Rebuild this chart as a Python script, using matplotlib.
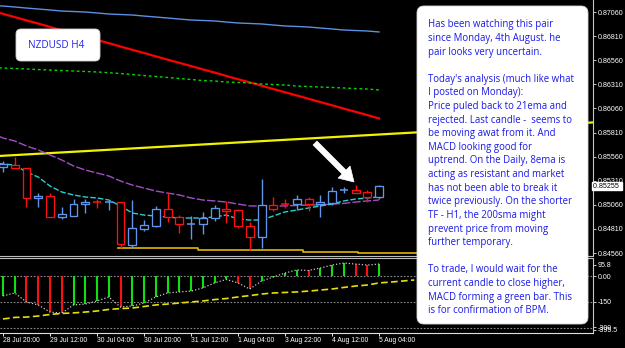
import matplotlib
matplotlib.use('Agg')
import matplotlib.pyplot as plt
from matplotlib.patches import Rectangle, FancyBboxPatch, FancyArrow
from matplotlib.transforms import IdentityTransform
from matplotlib import font_manager

# ---------------- data ----------------
bar_idx = list(range(33))
opens = [0.85452, 0.85473, 0.85442, 0.85131, 0.85151, 0.84934, 0.84944, 0.85068, 0.85089, 0.85079,
         0.85089, 0.84643, 0.84809, 0.84840, 0.85017, 0.84934, 0.84861, 0.84861, 0.84923, 0.85017,
         0.85006, 0.84840, 0.84726, 0.85058, 0.85079, 0.85068, 0.85120, 0.85068, 0.85079, 0.85208,
         0.85214, 0.85193, 0.85141]
highs = [0.85514, 0.85556, 0.85442, 0.85182, 0.85182, 0.85037, 0.85120, 0.85120, 0.85120, 0.85100,
         0.85089, 0.85110, 0.84902, 0.85048, 0.85182, 0.84954, 0.84944, 0.84985, 0.85058, 0.85100,
         0.85017, 0.84882, 0.85328, 0.85141, 0.85120, 0.85162, 0.85141, 0.85162, 0.85245, 0.85245,
         0.85266, 0.85214, 0.85266]
lows = [0.85400, 0.85442, 0.85037, 0.85037, 0.84934, 0.84913, 0.84944, 0.84975, 0.85027, 0.85006,
        0.84612, 0.84612, 0.84788, 0.84830, 0.84882, 0.84768, 0.84706, 0.84757, 0.84892, 0.84871,
        0.84819, 0.84591, 0.84612, 0.84996, 0.85027, 0.85006, 0.84996, 0.84934, 0.85058, 0.85182,
        0.85182, 0.85089, 0.85120]
closes = [0.85483, 0.85442, 0.85131, 0.85151, 0.84934, 0.84965, 0.85068, 0.85089, 0.85079, 0.85089,
          0.84654, 0.84819, 0.84851, 0.85017, 0.84934, 0.84861, 0.84871, 0.84923, 0.85027, 0.84996,
          0.84840, 0.84726, 0.85058, 0.85017, 0.85068, 0.85120, 0.85068, 0.85089, 0.85203, 0.85214,
          0.85182, 0.85141, 0.85255]

ma_idx = list(range(-1, 33))
sma_blue = [0.87127, 0.87122, 0.87112, 0.87101, 0.87091, 0.87081, 0.87070, 0.87065, 0.87060, 0.87050,
            0.87039, 0.87034, 0.87029, 0.87018, 0.87008, 0.86998, 0.86987, 0.86977, 0.86972, 0.86967,
            0.86956, 0.86946, 0.86941, 0.86936, 0.86925, 0.86915, 0.86910, 0.86904, 0.86894, 0.86884,
            0.86873, 0.86868, 0.86863, 0.86853]
ma_red = [0.87075, 0.87041, 0.87007, 0.86973, 0.86940, 0.86905, 0.86871, 0.86838, 0.86804, 0.86770,
          0.86737, 0.86702, 0.86668, 0.86635, 0.86600, 0.86566, 0.86533, 0.86499, 0.86465, 0.86432,
          0.86397, 0.86363, 0.86330, 0.86296, 0.86261, 0.86228, 0.86194, 0.86160, 0.86126, 0.86092,
          0.86058, 0.86025, 0.85991, 0.85956]
ma_green = [0.86484, 0.86479, 0.86474, 0.86469, 0.86463, 0.86458, 0.86453, 0.86448, 0.86443, 0.86438,
            0.86430, 0.86422, 0.86412, 0.86401, 0.86391, 0.86381, 0.86370, 0.86360, 0.86349, 0.86344,
            0.86334, 0.86329, 0.86324, 0.86313, 0.86308, 0.86303, 0.86292, 0.86287, 0.86282, 0.86277,
            0.86272, 0.86266, 0.86261, 0.86251]
ma_purple = [0.85805, 0.85753, 0.85722, 0.85670, 0.85629, 0.85577, 0.85525, 0.85463, 0.85421, 0.85390,
             0.85359, 0.85307, 0.85265, 0.85234, 0.85203, 0.85182, 0.85162, 0.85131, 0.85110, 0.85100,
             0.85089, 0.85068, 0.85048, 0.85048, 0.85048, 0.85048, 0.85053, 0.85058, 0.85058, 0.85068,
             0.85074, 0.85089, 0.85100, 0.85110]
ema_cyan = [0.85494, 0.85483, 0.85473, 0.85400, 0.85348, 0.85255, 0.85193, 0.85162, 0.85141, 0.85131,
            0.85110, 0.85048, 0.84975, 0.84954, 0.84944, 0.84934, 0.84923, 0.84923, 0.84923, 0.84934,
            0.84954, 0.84913, 0.84902, 0.84902, 0.84944, 0.84986, 0.85006, 0.85027, 0.85048, 0.85068,
            0.85100, 0.85120, 0.85131, 0.85141]

trend_idx = [-1, 52]
trend_price = [0.85562, 0.85927]

low_band_idx = [9.8, 16.6, 16.6, 25.5, 25.5, 30.2, 30.2, 35.5]
low_band_price = [0.84612, 0.84612, 0.84591, 0.84591, 0.84570, 0.84570, 0.84560, 0.84560]

macd_hist = [-115, -98, -150, -167, -208, -214, -167, -162, -144, -121, -179, -173, -156, -121, -98,
             -92, -87, -69, -40, -20, -40, -75, -29, -6, 17, 35, 32, 46, 63, 75, 69, 63, 69]
signal_idx = list(range(36))
macd_signal = [-248, -239, -237, -231, -222, -216, -213, -208, -202, -193, -188, -185, -176, -167,
               -162, -156, -150, -144, -136, -130, -121, -113, -104, -98, -95, -92, -87, -81, -75,
               -66, -58, -52, -40, -35, -29, -23]
macd_levels = [0, -150, -300]

time_tick_idx = [0, 4, 8, 12, 16, 20, 24, 28, 32]
time_labels = ['28 Jul 20:00', '29 Jul 12:00', '30 Jul 04:00', '30 Jul 20:00', '31 Jul 12:00',
               '1 Aug 04:00', '3 Aug 22:00', '4 Aug 12:00', '5 Aug 04:00']
price_ticks = [0.87060, 0.86810, 0.86560, 0.86310, 0.86060, 0.85810, 0.85560, 0.85310,
               0.85060, 0.84810, 0.84560]
current_price = 0.85255
macd_tick_pos = [66, 0, -150, -296, -310]
macd_tick_labels = ['95.8', '0.00', '-150', '-300', '-395.5']

title_text = 'NZDUSD H4'
note_lines = [
    "Has been watching this pair",
    "since Monday, 4th August. he",
    "pair looks very uncertain.",
    "",
    "Today's analysis (much like what",
    "I posted on Monday):",
    "Price puled back to 21ema and",
    "rejected. Last candle -  seems to",
    "be moving awat from it. And",
    "MACD looking good for",
    "uptrend. On the Daily, 8ema is",
    "acting as resistant and market",
    "has not been able to break it",
    "twice previously. On the shorter",
    "TF - H1, the 200sma might",
    "prevent price from moving",
    "further temporary.",
    "",
    "To trade, I would wait for the",
    "current candle to close higher,",
    "MACD forming a green bar. This",
    "is for confirmation of BPM.",
]

# ---------------- figure ----------------
W, H = 625, 348
fig = plt.figure(figsize=(W / 100, H / 100), dpi=100)
fig.patch.set_facecolor('black')
renderer = fig.canvas.get_renderer()

names = {f.name for f in font_manager.fontManager.ttflist}
NARROW = 'Liberation Sans Narrow' if 'Liberation Sans Narrow' in names else 'Liberation Sans'
AXFONT = 'Liberation Sans'
NOTEFONT = 'Open Sans' if 'Open Sans' in names else 'DejaVu Sans'


def fit_size(s, target_px, family, base=10.0):
    t = fig.text(0, 0, s, fontsize=base, family=family)
    w = t.get_window_extent(renderer).width
    t.remove()
    return base * target_px / w


def px_rect(x0, y0, x1, y1):
    return [x0 / W, 1 - y1 / H, (x1 - x0) / W, (y1 - y0) / H]


BLUE = '#6495ED'
RED = '#FF1010'
XL = (-0.255, 50.21)

ax = fig.add_axes(px_rect(0, 0, 593, 255))
ax2 = fig.add_axes(px_rect(0, 259, 593, 333))
for a in (ax, ax2):
    a.set_facecolor('black')
    a.set_xlim(*XL)
    for s in ('top', 'left', 'bottom'):
        a.spines[s].set_visible(False)
    a.spines['right'].set_color('#C8C8C8')
    a.spines['right'].set_linewidth(0.8)
ax2.spines['bottom'].set_visible(True)
ax2.spines['bottom'].set_color('#E0E0E0')
ax2.spines['bottom'].set_linewidth(0.8)

ax.set_ylim(0.845394, 0.871845)
ax2.set_ylim(-328.9, 98.1)

# ----- price panel lines -----
ax.plot(ma_idx, sma_blue, color='#5B8FE4', lw=1.0, zorder=2)
ax.plot(ma_idx, ma_red, color='#FF0000', lw=1.6, zorder=2)
ax.plot(ma_idx, ma_green, color='#00D800', lw=1.0, ls=(0, (2, 2)), zorder=2)
ax.plot(trend_idx, trend_price, color='#F2F200', lw=1.6, zorder=2)
ax.plot(ma_idx, ma_purple, color='#A64CC4', lw=1.0, ls=(0, (6, 1.5)), zorder=2)
ax.plot(ma_idx, ema_cyan, color='#28CFCF', lw=1.0, ls=(0, (4, 1.5)), zorder=2)
ax.plot(low_band_idx, low_band_price, color='#E0B800', lw=1.2, zorder=2)

# ----- candles -----
bw = 0.34
for i, o, h, l, c in zip(bar_idx, opens, highs, lows, closes):
    col = BLUE if c >= o else RED
    top, bot = max(o, c), min(o, c)
    if top - bot < 0.00012:
        ax.vlines(i, l, h, color=col, lw=1.0, zorder=4)
        ax.hlines((o + c) / 2, i - bw, i + bw, color=col, lw=1.1, zorder=4)
    else:
        ax.vlines(i, top, h, color=col, lw=1.0, zorder=4)
        ax.vlines(i, l, bot, color=col, lw=1.0, zorder=4)
        ax.add_patch(Rectangle((i - bw, bot), 2 * bw, top - bot, facecolor='black',
                               edgecolor=col, lw=0.95, zorder=4))

# ----- price axis -----
psize = fit_size('0.87060', 26.0, AXFONT)
ax.yaxis.tick_right()
ax.set_yticks(price_ticks)
ax.set_yticklabels(['%.5f' % v for v in price_ticks])
ax.tick_params(axis='y', colors='#E8E8E8', length=2.0, width=0.6, pad=1.2, labelsize=psize,
               labelcolor='white')
for lab in ax.get_yticklabels():
    lab.set_family(AXFONT)
ax.set_xticks([])
ax.text(1.0, current_price, '0.85255 ', transform=ax.get_yaxis_transform(), ha='left',
        va='center', fontsize=psize, family=AXFONT, color='black', clip_on=False, zorder=10,
        bbox=dict(boxstyle='square,pad=0.12', facecolor='white', edgecolor='white'))

# ----- MACD panel -----
for lv in macd_levels:
    ax2.axhline(lv, color='#8A8A8A', lw=0.8, ls=(0, (1.5, 1.5)), zorder=1)
hist_cols = ['#10E010']
for k in range(1, len(macd_hist)):
    hist_cols.append('#10E010' if macd_hist[k] > macd_hist[k - 1] else '#FF1010')
ax2.vlines(bar_idx, 0, macd_hist, colors=hist_cols, lw=1.5, zorder=3)
ax2.plot(bar_idx, macd_hist, color='#C8C8C8', lw=0.9, ls=(0, (1, 1.6)), zorder=4)
ax2.plot(signal_idx, macd_signal, color='#E6E000', lw=1.2, ls=(0, (4, 2)), zorder=4)

msize = psize * 0.98
ax2.yaxis.tick_right()
ax2.set_yticks(macd_tick_pos)
ax2.set_yticklabels(macd_tick_labels)
ax2.tick_params(axis='y', colors='#E8E8E8', length=2.0, width=0.6, pad=1.2, labelsize=msize,
                labelcolor='white')
for lab in ax2.get_yticklabels():
    lab.set_family(AXFONT)

tsize = fit_size('28 Jul 20:00', 36.7, NARROW)
ax2.set_xticks(time_tick_idx)
ax2.set_xticklabels(time_labels, ha='left')
ax2.tick_params(axis='x', colors='#E8E8E8', length=2.2, width=0.7, pad=0.8, labelsize=tsize,
                labelcolor='white', direction='out')
for lab in ax2.get_xticklabels():
    lab.set_family(NARROW)

# separator lines between panels
for yy in (256.4, 258.4):
    fig.add_artist(plt.Line2D([0, 593 / W], [1 - yy / H, 1 - yy / H], color='#BDBDBD', lw=0.8))

# ----- annotations -----
ID = IdentityTransform()
# title box
fig.add_artist(FancyBboxPatch((16, H - 61), 84, 32, boxstyle='round,pad=0,rounding_size=5',
                              facecolor='white', edgecolor='#D0D0D0', lw=0.6, transform=ID,
                              zorder=5))
tfs = fit_size(title_text, 56, NOTEFONT)
fig.text(56.3 / W, 1 - 45.2 / H, title_text, fontsize=tfs, family=NOTEFONT, color='#2525E8',
         ha='center', va='center', zorder=6)

# note box
fig.add_artist(FancyBboxPatch((417, H - 324), 171, 318, boxstyle='round,pad=0,rounding_size=7',
                              facecolor='white', edgecolor='#D8D8D8', lw=0.6, transform=ID,
                              zorder=5))
nfs = fit_size("Today's analysis (much like what", 146, NOTEFONT)
for k, line in enumerate(note_lines):
    if line:
        fig.text(428.5 / W, 1 - (23.3 + 13.62 * k) / H, line, fontsize=nfs, family=NOTEFONT,
                 color='#1A1AE8', ha='left', va='center_baseline', zorder=6)

# white arrow
fig.add_artist(FancyArrow(315, H - 143, 39, -39, width=5.5, head_width=17, head_length=14,
                          length_includes_head=True, facecolor='white', edgecolor='white',
                          lw=0.5, transform=ID, zorder=6))

fig.savefig('out.png', dpi=100, facecolor='black')
